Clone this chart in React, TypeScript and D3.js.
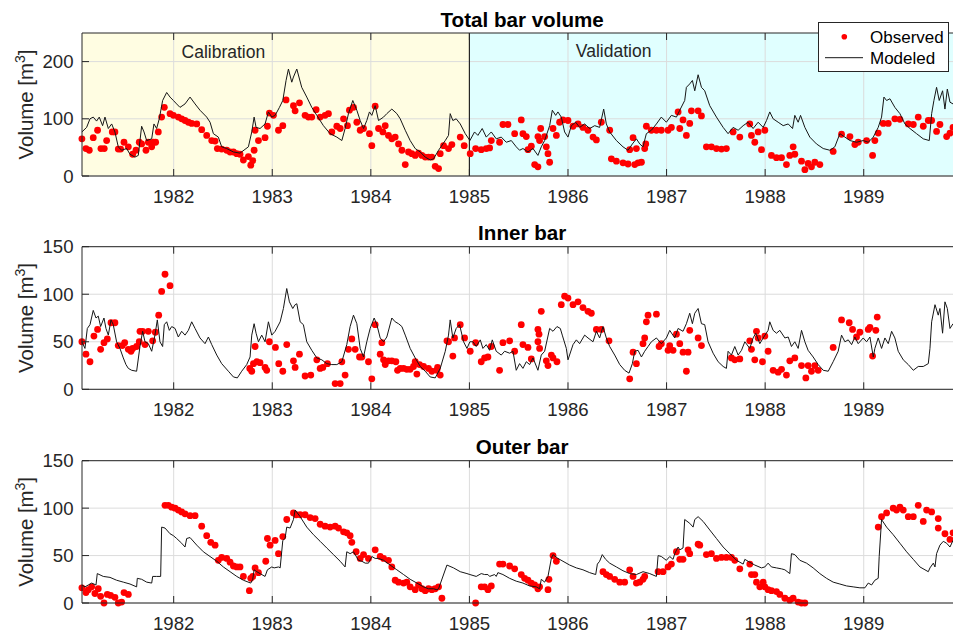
import React from 'react';
import * as d3 from 'd3';

type Pt = [number, number];

// ---- data: [decimal year, volume m3] ----
const YEAR_TICKS = [1982, 1983, 1984, 1985, 1986, 1987, 1988, 1989];
const TOTAL_TICKS = [0, 100, 200];
const BAR_TICKS = [0, 50, 100, 150];
const CALIBRATION_END = 1985;

const totalModeled: Pt[] = [
  [1981.069, 77], [1981.117, 85], [1981.151, 100], [1981.184, 103], [1981.218, 96], [1981.245, 103], [1981.279, 88],
  [1981.303, 103], [1981.337, 83], [1981.371, 91], [1981.404, 77], [1981.438, 51], [1981.472, 45], [1981.523, 48],
  [1981.557, 38], [1981.607, 33], [1981.641, 36], [1981.675, 87], [1981.699, 77], [1981.726, 62], [1981.777, 65],
  [1981.8, 91], [1981.827, 83], [1981.854, 100], [1981.888, 132], [1981.929, 146], [1981.963, 138], [1981.997, 132],
  [1982.03, 126], [1982.064, 120], [1982.115, 126], [1982.166, 138], [1982.217, 126], [1982.267, 115], [1982.335, 103],
  [1982.369, 94], [1982.403, 74], [1982.453, 68], [1982.487, 51], [1982.538, 48], [1982.606, 42], [1982.673, 40],
  [1982.758, 51], [1982.792, 77], [1982.816, 103], [1982.836, 85], [1982.876, 83], [1982.927, 91], [1982.961, 112],
  [1982.995, 103], [1983.029, 106], [1983.073, 120], [1983.107, 132], [1983.14, 167], [1983.164, 187], [1983.198, 164],
  [1983.215, 173], [1983.249, 187], [1983.299, 155], [1983.35, 138], [1983.401, 120], [1983.452, 106], [1983.519, 88],
  [1983.587, 74], [1983.655, 68], [1983.706, 62], [1983.739, 83], [1983.773, 109], [1983.817, 132], [1983.858, 115],
  [1983.892, 97], [1983.926, 83], [1983.959, 97], [1983.986, 112], [1984.01, 106], [1984.044, 123], [1984.078, 97],
  [1984.129, 103], [1984.162, 109], [1984.213, 117], [1984.264, 109], [1984.298, 100], [1984.349, 80], [1984.399, 62],
  [1984.45, 48], [1984.501, 42], [1984.552, 33], [1984.602, 28], [1984.636, 30], [1984.687, 45], [1984.755, 62],
  [1984.788, 71], [1984.805, 109], [1984.832, 97], [1984.866, 100], [1984.907, 91], [1984.958, 74], [1985.005, 62],
  [1985.052, 77], [1985.086, 71], [1985.13, 83], [1985.171, 68], [1985.222, 77], [1985.272, 65], [1985.323, 68],
  [1985.374, 59], [1985.425, 62], [1985.475, 51], [1985.509, 45], [1985.543, 48], [1985.594, 42], [1985.645, 48],
  [1985.695, 36], [1985.729, 51], [1985.763, 62], [1985.814, 88], [1985.841, 115], [1985.875, 106], [1985.898, 112],
  [1985.932, 103], [1985.966, 77], [1986.0, 68], [1986.034, 88], [1986.078, 94], [1986.118, 85], [1986.169, 91],
  [1986.22, 83], [1986.271, 88], [1986.321, 85], [1986.362, 117], [1986.389, 91], [1986.423, 77], [1986.491, 62],
  [1986.558, 51], [1986.609, 45], [1986.653, 56], [1986.694, 65], [1986.728, 56], [1986.761, 51], [1986.795, 74],
  [1986.846, 80], [1986.897, 91], [1986.947, 103], [1986.998, 94], [1987.049, 106], [1987.1, 103], [1987.134, 115],
  [1987.184, 132], [1987.201, 155], [1987.235, 161], [1987.262, 167], [1987.286, 149], [1987.32, 177], [1987.354, 155],
  [1987.387, 149], [1987.438, 123], [1987.506, 103], [1987.574, 85], [1987.624, 74], [1987.675, 85], [1987.726, 80],
  [1987.777, 88], [1987.827, 94], [1987.878, 83], [1987.929, 94], [1987.98, 85], [1988.014, 97], [1988.047, 112],
  [1988.081, 100], [1988.132, 94], [1988.183, 88], [1988.234, 91], [1988.278, 83], [1988.301, 106], [1988.335, 94],
  [1988.359, 106], [1988.403, 85], [1988.453, 68], [1988.521, 56], [1988.589, 48], [1988.657, 45], [1988.707, 51],
  [1988.758, 74], [1988.809, 68], [1988.86, 62], [1988.927, 59], [1988.995, 62], [1989.046, 59], [1989.097, 68],
  [1989.147, 85], [1989.181, 103], [1989.205, 138], [1989.232, 132], [1989.266, 135], [1989.316, 120], [1989.367, 109],
  [1989.418, 91], [1989.469, 83], [1989.536, 74], [1989.604, 65], [1989.665, 62], [1989.689, 109], [1989.712, 132],
  [1989.739, 155], [1989.766, 132], [1989.8, 149], [1989.824, 117], [1989.848, 152], [1989.875, 129], [1989.906, 126],
  [1989.95, 120],
];

const totalObserved: Pt[] = [
  [1981.069, 65], [1981.11, 48], [1981.144, 45], [1981.184, 67], [1981.228, 80], [1981.262, 48], [1981.296, 48],
  [1981.32, 62], [1981.377, 77], [1981.404, 77], [1981.438, 47], [1981.462, 47], [1981.496, 59], [1981.54, 51],
  [1981.584, 38], [1981.618, 45], [1981.651, 59], [1981.675, 56], [1981.719, 45], [1981.743, 59], [1981.777, 51],
  [1981.794, 59], [1981.817, 59], [1981.844, 77], [1981.878, 103], [1981.905, 120], [1981.963, 109], [1981.997, 106],
  [1982.047, 103], [1982.081, 100], [1982.115, 97], [1982.149, 94], [1982.183, 92], [1982.234, 91], [1982.284, 81],
  [1982.335, 71], [1982.386, 62], [1982.42, 61], [1982.443, 48], [1982.487, 47], [1982.538, 45], [1982.572, 42],
  [1982.606, 42], [1982.64, 39], [1982.673, 38], [1982.707, 28], [1982.758, 34], [1982.782, 19], [1982.802, 27],
  [1982.816, 45], [1982.826, 80], [1982.86, 62], [1982.927, 67], [1982.951, 87], [1982.971, 110], [1983.012, 106],
  [1983.063, 80], [1983.107, 88], [1983.14, 133], [1983.215, 123], [1983.232, 114], [1983.276, 128], [1983.333, 106],
  [1983.367, 103], [1983.401, 103], [1983.445, 116], [1983.486, 103], [1983.536, 106], [1983.57, 109], [1983.604, 77],
  [1983.655, 87], [1983.689, 83], [1983.723, 100], [1983.763, 88], [1983.783, 115], [1983.824, 120], [1983.858, 94],
  [1983.892, 80], [1983.926, 83], [1983.986, 74], [1984.01, 53], [1984.044, 122], [1984.078, 83], [1984.122, 77],
  [1984.146, 88], [1984.179, 71], [1984.213, 65], [1984.247, 68], [1984.281, 56], [1984.315, 45], [1984.349, 20],
  [1984.382, 42], [1984.416, 39], [1984.45, 36], [1984.484, 40], [1984.518, 36], [1984.552, 33], [1984.585, 33],
  [1984.619, 33], [1984.653, 17], [1984.687, 13], [1984.704, 39], [1984.738, 53], [1984.788, 48], [1984.822, 55],
  [1984.907, 68], [1984.947, 53], [1985.008, 39], [1985.063, 48], [1985.12, 46], [1985.171, 48], [1985.205, 49],
  [1985.222, 62], [1985.306, 59], [1985.34, 90], [1985.391, 90], [1985.459, 74], [1985.526, 98], [1985.543, 74],
  [1985.577, 69], [1985.594, 46], [1985.628, 52], [1985.662, 20], [1985.695, 16], [1985.695, 69], [1985.712, 62],
  [1985.723, 83], [1985.763, 69], [1985.78, 51], [1985.797, 39], [1985.814, 24], [1985.848, 83], [1985.882, 71],
  [1985.915, 94], [1985.949, 98], [1986.0, 97], [1986.051, 87], [1986.102, 91], [1986.152, 85], [1986.203, 80],
  [1986.254, 68], [1986.288, 63], [1986.338, 94], [1986.423, 80], [1986.44, 30], [1986.491, 26], [1986.558, 23],
  [1986.609, 21], [1986.677, 20], [1986.711, 23], [1986.745, 24], [1986.626, 46], [1986.66, 67], [1986.694, 48],
  [1986.778, 48], [1986.789, 56], [1986.795, 87], [1986.846, 80], [1986.897, 80], [1986.947, 80], [1987.015, 80],
  [1987.049, 85], [1987.117, 112], [1987.167, 98], [1987.134, 83], [1987.201, 71], [1987.235, 92], [1987.252, 114],
  [1987.32, 114], [1987.354, 105], [1987.404, 51], [1987.455, 51], [1987.506, 48], [1987.557, 47], [1987.607, 48],
  [1987.675, 77], [1987.743, 68], [1987.844, 91], [1987.861, 71], [1987.895, 59], [1987.929, 77], [1987.963, 46],
  [1987.997, 80], [1988.064, 36], [1988.115, 32], [1988.166, 32], [1988.216, 20], [1988.25, 36], [1988.284, 51],
  [1988.301, 38], [1988.369, 26], [1988.403, 11], [1988.436, 22], [1988.47, 16], [1988.504, 24], [1988.555, 20],
  [1988.69, 43], [1988.775, 73], [1988.86, 69], [1988.91, 55], [1988.944, 59], [1989.029, 62], [1989.09, 36],
  [1989.113, 62], [1989.147, 75], [1989.198, 92], [1989.249, 92], [1989.316, 100], [1989.367, 99], [1989.452, 91],
  [1989.503, 90], [1989.553, 103], [1989.604, 87], [1989.655, 97], [1989.689, 97], [1989.739, 78], [1989.773, 90],
  [1989.841, 69], [1989.875, 75], [1989.906, 85],
];

const innerModeled: Pt[] = [
  [1981.069, 50], [1981.1, 43], [1981.124, 64], [1981.151, 68], [1981.184, 83], [1981.212, 75], [1981.235, 77],
  [1981.259, 66], [1981.293, 75], [1981.313, 64], [1981.337, 57], [1981.364, 73], [1981.387, 68], [1981.421, 50],
  [1981.455, 43], [1981.489, 33], [1981.516, 26], [1981.54, 22], [1981.574, 20], [1981.624, 19], [1981.658, 45],
  [1981.685, 61], [1981.709, 50], [1981.743, 48], [1981.777, 40], [1981.81, 57], [1981.834, 73], [1981.861, 50],
  [1981.888, 45], [1981.905, 68], [1981.929, 71], [1981.956, 62], [1981.98, 66], [1982.014, 64], [1982.047, 55],
  [1982.081, 61], [1982.115, 57], [1982.149, 62], [1982.183, 71], [1982.217, 64], [1982.267, 54], [1982.318, 48],
  [1982.352, 55], [1982.386, 47], [1982.437, 36], [1982.487, 27], [1982.555, 19], [1982.606, 13], [1982.646, 12],
  [1982.69, 19], [1982.741, 26], [1982.775, 34], [1982.792, 57], [1982.816, 69], [1982.836, 59], [1982.86, 50],
  [1982.893, 57], [1982.927, 50], [1982.961, 71], [1982.995, 57], [1983.029, 61], [1983.08, 71], [1983.113, 85],
  [1983.147, 106], [1983.174, 92], [1983.208, 85], [1983.232, 89], [1983.249, 90], [1983.283, 71], [1983.316, 68],
  [1983.35, 50], [1983.401, 41], [1983.452, 33], [1983.503, 31], [1983.553, 27], [1983.604, 26], [1983.655, 26],
  [1983.706, 29], [1983.756, 47], [1983.79, 66], [1983.824, 78], [1983.858, 69], [1983.892, 43], [1983.926, 34],
  [1983.959, 50], [1983.993, 64], [1984.034, 75], [1984.061, 68], [1984.095, 54], [1984.129, 50], [1984.162, 55],
  [1984.213, 75], [1984.247, 71], [1984.281, 69], [1984.315, 66], [1984.349, 57], [1984.399, 43], [1984.45, 33],
  [1984.501, 24], [1984.552, 19], [1984.602, 13], [1984.653, 12], [1984.704, 22], [1984.755, 40], [1984.788, 57],
  [1984.805, 73], [1984.832, 54], [1984.866, 64], [1984.9, 68], [1984.941, 50], [1984.975, 43], [1985.005, 50],
  [1985.036, 50], [1985.069, 45], [1985.11, 52], [1985.137, 43], [1985.171, 47], [1985.205, 41], [1985.232, 52],
  [1985.272, 40], [1985.323, 36], [1985.357, 40], [1985.408, 38], [1985.442, 40], [1985.475, 20], [1985.509, 27],
  [1985.543, 22], [1985.577, 29], [1985.611, 26], [1985.645, 33], [1985.695, 20], [1985.729, 36], [1985.763, 40],
  [1985.814, 64], [1985.848, 61], [1985.888, 66], [1985.922, 64], [1985.942, 57], [1985.983, 43], [1986.0, 31],
  [1986.051, 47], [1986.085, 52], [1986.118, 48], [1986.169, 57], [1986.203, 54], [1986.254, 50], [1986.288, 61],
  [1986.321, 54], [1986.355, 66], [1986.389, 54], [1986.423, 45], [1986.474, 36], [1986.525, 26], [1986.575, 20],
  [1986.619, 17], [1986.653, 27], [1986.677, 40], [1986.711, 41], [1986.745, 34], [1986.778, 40], [1986.812, 45],
  [1986.846, 50], [1986.897, 54], [1986.947, 48], [1986.998, 54], [1987.032, 62], [1987.083, 54], [1987.117, 64],
  [1987.167, 61], [1987.201, 69], [1987.235, 80], [1987.262, 69], [1987.286, 80], [1987.32, 85], [1987.354, 69],
  [1987.387, 68], [1987.421, 50], [1987.472, 38], [1987.523, 29], [1987.574, 24], [1987.607, 22], [1987.624, 40],
  [1987.658, 36], [1987.692, 45], [1987.726, 36], [1987.76, 41], [1987.794, 50], [1987.844, 43], [1987.878, 54],
  [1987.905, 59], [1987.946, 48], [1987.98, 54], [1988.03, 62], [1988.047, 71], [1988.081, 62], [1988.115, 59],
  [1988.149, 62], [1988.2, 54], [1988.234, 55], [1988.267, 45], [1988.301, 50], [1988.335, 43], [1988.369, 62],
  [1988.403, 50], [1988.436, 41], [1988.487, 34], [1988.538, 26], [1988.589, 20], [1988.64, 19], [1988.69, 29],
  [1988.741, 40], [1988.775, 57], [1988.809, 50], [1988.843, 52], [1988.877, 47], [1988.91, 55], [1988.944, 48],
  [1988.995, 54], [1989.029, 50], [1989.063, 55], [1989.097, 34], [1989.113, 43], [1989.147, 54], [1989.181, 43],
  [1989.215, 54], [1989.249, 48], [1989.283, 61], [1989.316, 54], [1989.35, 40], [1989.401, 31], [1989.452, 26],
  [1989.503, 20], [1989.553, 24], [1989.604, 24], [1989.655, 27], [1989.672, 43], [1989.689, 71], [1989.723, 89],
  [1989.756, 78], [1989.773, 85], [1989.8, 59], [1989.824, 92], [1989.848, 85], [1989.875, 64], [1989.906, 69],
  [1989.95, 66],
];

const innerObserved: Pt[] = [
  [1981.069, 50], [1981.11, 37], [1981.151, 29], [1981.191, 56], [1981.228, 63], [1981.259, 42], [1981.293, 49],
  [1981.327, 53], [1981.364, 70], [1981.404, 70], [1981.438, 46], [1981.479, 46], [1981.503, 49], [1981.54, 42],
  [1981.567, 40], [1981.584, 43], [1981.624, 45], [1981.651, 50], [1981.658, 61], [1981.685, 61], [1981.709, 47],
  [1981.743, 61], [1981.787, 51], [1981.814, 60], [1981.848, 78], [1981.878, 103], [1981.912, 121], [1981.963, 109],
  [1982.772, 22], [1982.792, 19], [1982.809, 27], [1982.826, 45], [1982.843, 29], [1982.876, 28], [1982.927, 23],
  [1982.944, 20], [1982.971, 50], [1983.032, 44], [1983.066, 27], [1983.107, 19], [1983.147, 47], [1983.215, 30],
  [1983.232, 23], [1983.276, 37], [1983.333, 14], [1983.391, 15], [1983.452, 31], [1983.486, 22], [1983.513, 23],
  [1983.56, 27], [1983.638, 6], [1983.689, 6], [1983.706, 29], [1983.739, 15], [1983.773, 42], [1983.807, 53],
  [1983.841, 42], [1983.885, 34], [1983.909, 34], [1983.976, 29], [1984.01, 11], [1984.044, 68], [1984.095, 37],
  [1984.112, 49], [1984.129, 31], [1984.146, 26], [1984.179, 30], [1984.213, 30], [1984.254, 29], [1984.271, 20],
  [1984.298, 22], [1984.332, 22], [1984.365, 21], [1984.399, 21], [1984.433, 24], [1984.45, 29], [1984.467, 16],
  [1984.494, 26], [1984.535, 24], [1984.585, 22], [1984.619, 19], [1984.67, 20], [1984.677, 23], [1984.704, 15],
  [1984.772, 51], [1984.788, 50], [1984.832, 35], [1984.849, 54], [1984.907, 68], [1984.951, 54], [1985.008, 40],
  [1985.063, 49], [1985.12, 29], [1985.154, 33], [1985.188, 34], [1985.222, 45], [1985.306, 20], [1985.34, 49],
  [1985.408, 51], [1985.459, 40], [1985.526, 68], [1985.543, 47], [1985.594, 44], [1985.628, 32], [1985.695, 63],
  [1985.706, 58], [1985.695, 50], [1985.712, 43], [1985.729, 82], [1985.78, 30], [1985.797, 25], [1985.831, 36],
  [1985.848, 33], [1985.888, 29], [1985.932, 89], [1985.966, 98], [1986.0, 96], [1986.051, 89], [1986.102, 92],
  [1986.152, 86], [1986.203, 82], [1986.237, 80], [1986.288, 63], [1986.338, 63], [1986.416, 51], [1986.626, 11],
  [1986.66, 39], [1986.694, 27], [1986.761, 48], [1986.778, 54], [1986.795, 71], [1986.812, 78], [1986.897, 79],
  [1986.924, 45], [1986.947, 48], [1987.015, 41], [1987.032, 46], [1987.066, 41], [1987.1, 58], [1987.134, 48],
  [1987.167, 39], [1987.201, 19], [1987.218, 39], [1987.235, 62], [1987.32, 54], [1987.354, 46], [1987.658, 33],
  [1987.692, 31], [1987.743, 32], [1987.844, 51], [1987.861, 42], [1987.895, 31], [1987.912, 61], [1987.929, 54],
  [1987.973, 29], [1987.997, 56], [1988.03, 40], [1988.081, 20], [1988.132, 18], [1988.166, 21], [1988.216, 15],
  [1988.25, 30], [1988.301, 33], [1988.369, 25], [1988.413, 12], [1988.436, 25], [1988.47, 19], [1988.504, 25],
  [1988.538, 20], [1988.69, 44], [1988.775, 73], [1988.853, 70], [1988.887, 63], [1988.927, 55], [1988.961, 60],
  [1989.046, 63], [1989.063, 65], [1989.09, 35], [1989.123, 62], [1989.137, 76],
];

const outerModeled: Pt[] = [
  [1981.069, 19], [1981.1, 17], [1981.134, 19], [1981.168, 21], [1981.212, 19], [1981.225, 31], [1981.286, 28],
  [1981.354, 27], [1981.421, 24], [1981.489, 22], [1981.557, 20], [1981.624, 17], [1981.631, 26], [1981.675, 25],
  [1981.726, 22], [1981.777, 21], [1981.787, 28], [1981.827, 28], [1981.868, 28], [1981.878, 80], [1981.912, 79],
  [1981.963, 73], [1981.997, 71], [1982.03, 68], [1982.081, 63], [1982.115, 59], [1982.132, 68], [1982.166, 69],
  [1982.234, 61], [1982.301, 54], [1982.369, 49], [1982.437, 44], [1982.504, 38], [1982.572, 33], [1982.64, 28],
  [1982.707, 24], [1982.782, 21], [1982.802, 25], [1982.816, 35], [1982.843, 33], [1982.876, 31], [1982.927, 28],
  [1982.951, 35], [1982.995, 38], [1983.019, 37], [1983.063, 38], [1983.08, 37], [1983.107, 66], [1983.13, 68],
  [1983.147, 80], [1983.181, 79], [1983.215, 88], [1983.232, 98], [1983.283, 91], [1983.35, 80], [1983.418, 72],
  [1983.486, 65], [1983.553, 58], [1983.621, 51], [1983.689, 44], [1983.739, 38], [1983.756, 54], [1983.79, 52],
  [1983.824, 54], [1983.875, 45], [1983.909, 44], [1983.943, 42], [1983.976, 42], [1984.01, 49], [1984.044, 47],
  [1984.078, 47], [1984.129, 45], [1984.196, 40], [1984.264, 35], [1984.332, 30], [1984.399, 25], [1984.467, 21],
  [1984.535, 17], [1984.585, 15], [1984.636, 15], [1984.67, 14], [1984.687, 15], [1984.772, 40], [1984.839, 37],
  [1984.907, 33], [1984.975, 31], [1985.005, 30], [1985.069, 28], [1985.12, 31], [1985.154, 30], [1985.188, 30],
  [1985.205, 28], [1985.255, 30], [1985.272, 28], [1985.289, 32], [1985.34, 30], [1985.408, 26], [1985.475, 23],
  [1985.543, 21], [1985.611, 18], [1985.678, 17], [1985.712, 15], [1985.729, 25], [1985.763, 22], [1985.797, 28],
  [1985.831, 47], [1985.848, 51], [1985.898, 47], [1985.949, 44], [1986.017, 40], [1986.085, 37], [1986.152, 35],
  [1986.22, 32], [1986.281, 30], [1986.298, 41], [1986.321, 44], [1986.348, 51], [1986.382, 46], [1986.423, 42],
  [1986.491, 38], [1986.558, 34], [1986.626, 31], [1986.694, 30], [1986.761, 33], [1986.829, 31], [1986.897, 28],
  [1986.914, 50], [1986.947, 49], [1986.998, 45], [1987.032, 49], [1987.066, 46], [1987.083, 52], [1987.117, 59],
  [1987.134, 56], [1987.167, 58], [1987.184, 88], [1987.235, 84], [1987.269, 80], [1987.286, 88], [1987.32, 91],
  [1987.371, 86], [1987.438, 77], [1987.506, 68], [1987.574, 59], [1987.641, 52], [1987.709, 45], [1987.777, 41],
  [1987.794, 46], [1987.827, 44], [1987.895, 40], [1987.963, 37], [1987.997, 38], [1988.03, 42], [1988.064, 38],
  [1988.115, 37], [1988.166, 36], [1988.2, 35], [1988.25, 31], [1988.267, 52], [1988.301, 51], [1988.352, 45],
  [1988.42, 42], [1988.487, 37], [1988.555, 31], [1988.623, 26], [1988.69, 22], [1988.758, 20], [1988.826, 18],
  [1988.893, 17], [1988.961, 16], [1989.012, 16], [1989.046, 21], [1989.08, 19], [1989.113, 24], [1989.147, 26],
  [1989.157, 49], [1989.181, 88], [1989.232, 80], [1989.299, 72], [1989.367, 63], [1989.435, 54], [1989.503, 46],
  [1989.57, 38], [1989.655, 33], [1989.672, 37], [1989.706, 42], [1989.723, 38], [1989.739, 52], [1989.773, 61],
  [1989.807, 65], [1989.841, 63], [1989.875, 59], [1989.906, 66], [1989.95, 64],
];

const outerObserved: Pt[] = [
  [1981.069, 16], [1981.11, 11], [1981.134, 14], [1981.168, 17], [1981.201, 10], [1981.235, 15], [1981.259, 7],
  [1981.293, 0], [1981.327, 9], [1981.36, 8], [1981.404, 6], [1981.438, 0], [1981.472, 1], [1981.496, 11],
  [1981.54, 9], [1981.912, 103], [1981.946, 103], [1981.98, 101], [1982.014, 100], [1982.047, 98], [1982.081, 96],
  [1982.115, 94], [1982.166, 92], [1982.217, 92], [1982.284, 81], [1982.335, 71], [1982.376, 64], [1982.42, 61],
  [1982.453, 45], [1982.487, 48], [1982.538, 47], [1982.572, 43], [1982.606, 39], [1982.64, 38], [1982.673, 38],
  [1982.707, 28], [1982.768, 13], [1982.782, 26], [1982.802, 28], [1982.826, 37], [1982.86, 32], [1982.934, 44],
  [1982.951, 68], [1982.978, 61], [1983.029, 66], [1983.063, 52], [1983.107, 70], [1983.147, 88], [1983.215, 95],
  [1983.242, 93], [1983.283, 93], [1983.333, 93], [1983.384, 90], [1983.435, 89], [1983.486, 83], [1983.536, 81],
  [1983.587, 80], [1983.638, 81], [1983.672, 79], [1983.723, 75], [1983.756, 74], [1983.79, 71], [1983.807, 64],
  [1983.851, 54], [1983.892, 47], [1983.926, 51], [1983.976, 47], [1984.044, 56], [1984.095, 49], [1984.129, 47],
  [1984.179, 45], [1984.213, 38], [1984.247, 24], [1984.281, 22], [1984.332, 21], [1984.365, 22], [1984.399, 17],
  [1984.45, 14], [1984.484, 19], [1984.518, 15], [1984.552, 13], [1984.585, 15], [1984.619, 14], [1984.653, 15],
  [1984.687, 17], [1984.721, 5], [1985.063, 0], [1985.12, 17], [1985.154, 17], [1985.188, 14], [1985.222, 18],
  [1985.306, 41], [1985.34, 41], [1985.408, 39], [1985.459, 36], [1985.526, 30], [1985.56, 26], [1985.594, 24],
  [1985.628, 21], [1985.662, 19], [1985.695, 15], [1985.712, 17], [1985.797, 14], [1985.807, 25], [1985.848, 50],
  [1985.882, 44], [1986.355, 33], [1986.389, 30], [1986.423, 28], [1986.474, 25], [1986.525, 22], [1986.575, 22],
  [1986.626, 35], [1986.66, 28], [1986.694, 21], [1986.728, 22], [1986.761, 25], [1986.778, 28], [1986.914, 33],
  [1986.964, 33], [1987.015, 38], [1987.049, 41], [1987.1, 54], [1987.134, 46], [1987.167, 46], [1987.218, 56],
  [1987.235, 52], [1987.32, 62], [1987.337, 61], [1987.404, 51], [1987.455, 52], [1987.506, 47], [1987.557, 48],
  [1987.607, 48], [1987.658, 48], [1987.692, 45], [1987.743, 36], [1987.844, 41], [1987.861, 30], [1987.895, 30],
  [1987.912, 22], [1987.946, 17], [1987.98, 22], [1987.997, 17], [1988.03, 14], [1988.064, 13], [1988.115, 12],
  [1988.149, 9], [1988.2, 5], [1988.25, 3], [1988.284, 5], [1988.335, 1], [1988.369, 0], [1988.403, 0],
  [1989.147, 80], [1989.181, 91], [1989.232, 95], [1989.299, 100], [1989.333, 98], [1989.367, 101], [1989.401, 98],
  [1989.452, 91], [1989.503, 91], [1989.553, 103], [1989.604, 86], [1989.638, 98], [1989.689, 96], [1989.756, 89],
  [1989.756, 79], [1989.824, 73], [1989.875, 67], [1989.906, 74],
];

// ---- figure layout ----
const WIDTH = 953;
const HEIGHT = 633;
const PLOT_LEFT = 82;
const PLOT_RIGHT = 962.3;
const X_DOMAIN: [number, number] = [1981.07, 1990];

const FONT = '"Liberation Sans", Arial, Helvetica, sans-serif';
const AXIS_COLOR = '#262626';
const GRID_COLOR = '#dcdcdc';
const CAL_FILL = 'rgb(255,253,226)';
const VAL_FILL = 'rgb(224,255,255)';
const TICK_LEN = 7;

interface Panel {
  title: string;
  top: number;
  bottom: number;
  yMax: number;
  yTicks: number[];
  modeled: Pt[];
  observed: Pt[];
  periods: boolean;
}

const panels: Panel[] = [
  { title: 'Total bar volume', top: 33, bottom: 176, yMax: 250, yTicks: TOTAL_TICKS, modeled: totalModeled, observed: totalObserved, periods: true },
  { title: 'Inner bar', top: 246.7, bottom: 389.3, yMax: 150, yTicks: BAR_TICKS, modeled: innerModeled, observed: innerObserved, periods: false },
  { title: 'Outer bar', top: 460.7, bottom: 603, yMax: 150, yTicks: BAR_TICKS, modeled: outerModeled, observed: outerObserved, periods: false },
];

const x = d3.scaleLinear().domain(X_DOMAIN).range([PLOT_LEFT, PLOT_RIGHT]);

function PanelView({ p }: { p: Panel }) {
  const y = d3.scaleLinear().domain([0, p.yMax]).range([p.bottom, p.top]);
  const line = d3
    .line<Pt>()
    .x((d) => x(d[0]))
    .y((d) => y(d[1]));
  const xSplit = x(CALIBRATION_END);
  const midY = (p.top + p.bottom) / 2;

  return (
    <g>
      {p.periods && (
        <g>
          <rect x={PLOT_LEFT} y={p.top} width={xSplit - PLOT_LEFT} height={p.bottom - p.top} fill={CAL_FILL} />
          <rect x={xSplit} y={p.top} width={PLOT_RIGHT - xSplit} height={p.bottom - p.top} fill={VAL_FILL} />
        </g>
      )}
      {/* grid */}
      {YEAR_TICKS.map((t) => (
        <line key={'gx' + t} x1={x(t)} x2={x(t)} y1={p.top} y2={p.bottom} stroke={GRID_COLOR} strokeWidth={1} />
      ))}
      {p.yTicks.map((v) => (
        <line key={'gy' + v} x1={PLOT_LEFT} x2={PLOT_RIGHT} y1={y(v)} y2={y(v)} stroke={GRID_COLOR} strokeWidth={1} />
      ))}
      {p.periods && (
        <g fontFamily={FONT} fontSize={17.5} fill={AXIS_COLOR}>
          <line x1={xSplit} x2={xSplit} y1={p.top} y2={p.bottom} stroke={AXIS_COLOR} strokeWidth={1.2} />
          <text x={x(1982.08)} y={p.top + 25}>Calibration</text>
          <text x={x(1986.08)} y={p.top + 24}>Validation</text>
        </g>
      )}
      {/* observations */}
      {p.observed.map((d, i) => (
        <circle key={'o' + i} cx={x(d[0])} cy={y(d[1])} r={3.4} fill="#ff0000" />
      ))}
      {/* model */}
      <path d={line(p.modeled) || ''} fill="none" stroke="#161616" strokeWidth={1} strokeLinejoin="round" />
      {/* axes box */}
      <line x1={PLOT_LEFT} x2={PLOT_RIGHT} y1={p.top} y2={p.top} stroke={AXIS_COLOR} strokeWidth={1} />
      <line x1={PLOT_LEFT} x2={PLOT_RIGHT} y1={p.bottom} y2={p.bottom} stroke={AXIS_COLOR} strokeWidth={1} />
      <line x1={PLOT_LEFT} x2={PLOT_LEFT} y1={p.top} y2={p.bottom} stroke={AXIS_COLOR} strokeWidth={1} />
      {YEAR_TICKS.map((t) => (
        <g key={'tx' + t}>
          <line x1={x(t)} x2={x(t)} y1={p.bottom} y2={p.bottom - TICK_LEN} stroke={AXIS_COLOR} strokeWidth={1} />
          <line x1={x(t)} x2={x(t)} y1={p.top} y2={p.top + TICK_LEN} stroke={AXIS_COLOR} strokeWidth={1} />
          <text x={x(t)} y={p.bottom + 27} textAnchor="middle" fontFamily={FONT} fontSize={18.6} fill={AXIS_COLOR}>
            {t}
          </text>
        </g>
      ))}
      {p.yTicks.map((v) => (
        <g key={'ty' + v}>
          <line x1={PLOT_LEFT} x2={PLOT_LEFT + TICK_LEN} y1={y(v)} y2={y(v)} stroke={AXIS_COLOR} strokeWidth={1} />
          <text x={PLOT_LEFT - 8.5} y={y(v) + 6.6} textAnchor="end" fontFamily={FONT} fontSize={18.6} fill={AXIS_COLOR}>
            {v}
          </text>
        </g>
      ))}
      <text
        transform={`translate(33,${midY}) rotate(-90)`}
        textAnchor="middle"
        fontFamily={FONT}
        fontSize={20.4}
        fill={AXIS_COLOR}
      >
        Volume [m<tspan fontSize={14} dy={-8}>3</tspan>
        <tspan dy={8}>]</tspan>
      </text>
      <text
        x={(PLOT_LEFT + PLOT_RIGHT) / 2}
        y={p.top - 6.3}
        textAnchor="middle"
        fontFamily={FONT}
        fontSize={20.6}
        fontWeight="bold"
        fill="#000"
      >
        {p.title}
      </text>
    </g>
  );
}

function Legend() {
  return (
    <g fontFamily={FONT} fontSize={17} fill="#000">
      <rect x={818.5} y={22.5} width={130} height={49} fill="#fff" stroke={AXIS_COLOR} strokeWidth={1} />
      <circle cx={844.3} cy={36.7} r={2.8} fill="#ff0000" />
      <text x={870} y={43}>Observed</text>
      <line x1={825} x2={863} y1={57.7} y2={57.7} stroke="#161616" strokeWidth={1} />
      <text x={870} y={63.5}>Modeled</text>
    </g>
  );
}

export default function App() {
  return (
    <svg
      width={WIDTH}
      height={HEIGHT}
      viewBox={`0 0 ${WIDTH} ${HEIGHT}`}
      style={{ position: 'absolute', left: 0, top: 0, background: '#fff' }}
    >
      <rect x={0} y={0} width={WIDTH} height={HEIGHT} fill="#fff" />
      {panels.map((p) => (
        <PanelView key={p.title} p={p} />
      ))}
      <Legend />
    </svg>
  );
}
